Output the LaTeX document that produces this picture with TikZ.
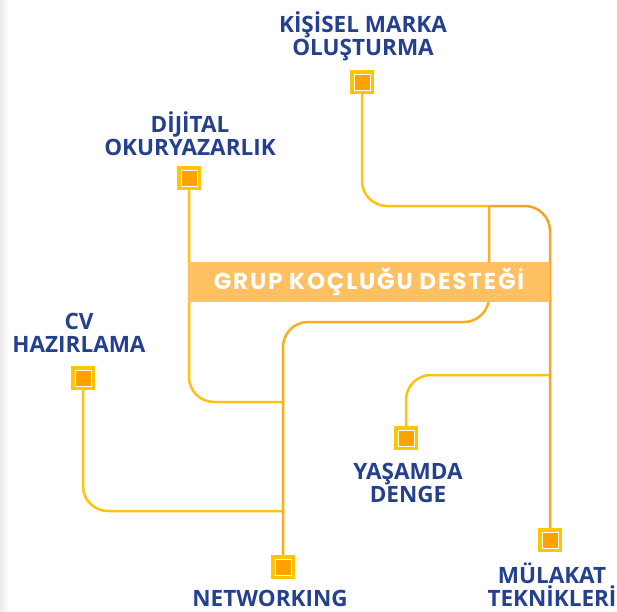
\documentclass[tikz,border=0pt]{standalone}
\usepackage{fontspec}
\setmainfont{Open Sans}
\newfontfamily\bannerfont[LetterSpace=8]{Poppins}
\definecolor{lblue}{HTML}{24408E}
\definecolor{ylw}{HTML}{FFC20E}
\definecolor{org}{HTML}{F7A12B}
\definecolor{sqout}{HTML}{FFC600}
\definecolor{sqin}{HTML}{FFA200}
\definecolor{bannerbg}{HTML}{FFC062}
\begin{document}
\begin{tikzpicture}[x=1pt,y=-1pt,
  sq/.style={minimum size=24pt,inner sep=0pt,fill=sqout,draw=none,
    path picture={\draw[white,line width=1pt,fill=sqin] ([shift={(-8,-8)}]path picture bounding box.center) rectangle ([shift={(8,8)}]path picture bounding box.center);}},
  lbl/.style={font=\fontsize{22.5}{22.5}\selectfont\bfseries,text=lblue,align=center,inner sep=0pt},
  wire/.style={line width=2.5pt,rounded corners=25pt}]
\useasboundingbox (0,0) rectangle (617,611);
\shade[left color=black!8,right color=white] (0,0) rectangle (9,611);
% squares
\node[sq] (sqK) at (362,82) {};
\node[sq] (sqD) at (189,178) {};
\node[sq] (sqC) at (83,378) {};
\node[sq] (sqY) at (406,438) {};
\node[sq] (sqN) at (283,567) {};
\node[sq] (sqM) at (550,540) {};
% coordinates
\coordinate (tr) at (550,206);
\coordinate (j1) at (489,206);
\coordinate (n1) at (283,322);
\coordinate (d1) at (283,402);
\coordinate (c1) at (283,511);
\coordinate (y1) at (550,375);
% wires
\draw[wire,ylw] (sqD.south) |- (d1);
\draw[wire,ylw] (sqC.south) |- (c1);
\draw[wire,ylw] (sqY.north) |- (y1);
\draw[wire,ylw] (sqK.south) |- (j1);
\draw[wire,org] (j1) -- (tr) -- (sqM.north);
\draw[wire,ylw!40!org] (j1) |- (n1) -- (sqN.north);
% banner
\node[fill=bannerbg,minimum width=362pt,minimum height=40pt,inner sep=0pt,
  font=\bannerfont\fontsize{23}{24}\selectfont\bfseries,text=white] (banner) at (369,282) {GRUP KOÇLUĞU DESTEĞİ};
% labels (anchor base = last line's baseline)
\node[lbl,anchor=base] (tK) at (363,55) {KİŞİSEL MARKA\\OLUŞTURMA};
\node[lbl,anchor=base] (tD) at (190,155) {DİJİTAL\\OKURYAZARLIK};
\node[lbl,anchor=base] (tC) at (79,352) {CV\\HAZIRLAMA};
\node[lbl,anchor=base] (tY) at (408,502) {YAŞAMDA\\DENGE};
\node[lbl,anchor=base] (tN) at (270,606) {NETWORKING};
\node[lbl,anchor=base] (tM) at (552,606) {MÜLAKAT\\TEKNİKLERİ};
\end{tikzpicture}
\end{document}
